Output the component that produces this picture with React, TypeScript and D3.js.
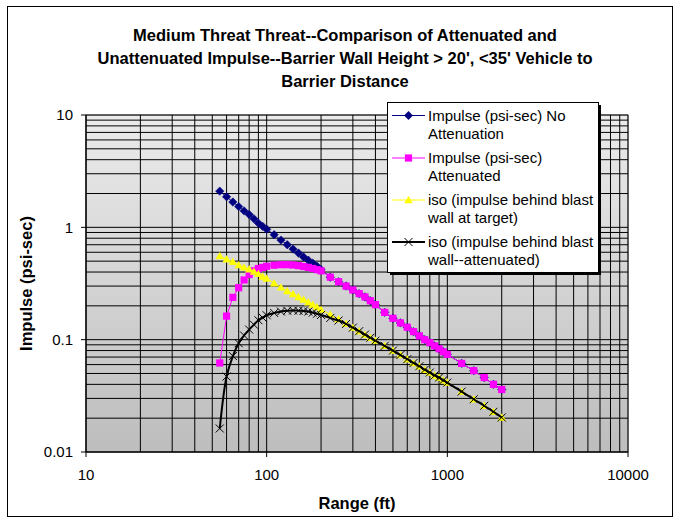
import React from "react";
import * as d3 from "d3";

const ranges = [55, 60, 65, 70, 75, 80, 85, 90, 95, 100, 110, 120, 130, 140, 150, 160, 170, 180, 190, 200, 225, 250, 275, 300, 325, 350, 375, 400, 450, 500, 550, 600, 650, 700, 750, 800, 850, 900, 950, 1000, 1200, 1400, 1600, 1800, 2000];

const impulseNoAtten = [2.10, 1.87, 1.68, 1.53, 1.40, 1.30, 1.19, 1.09, 1.02, 0.96, 0.86, 0.77, 0.70, 0.64, 0.59, 0.545, 0.51, 0.48, 0.45, 0.42, 0.36, 0.328, 0.30, 0.277, 0.257, 0.24, 0.222, 0.205, 0.175, 0.155, 0.141, 0.129, 0.118, 0.108, 0.100, 0.094, 0.088, 0.083, 0.078, 0.074, 0.0615, 0.053, 0.046, 0.040, 0.036];

const impulseAtten = [0.062, 0.162, 0.238, 0.29, 0.34, 0.38, 0.41, 0.43, 0.44, 0.45, 0.46, 0.465, 0.465, 0.462, 0.456, 0.448, 0.44, 0.43, 0.42, 0.41, 0.36, 0.328, 0.30, 0.277, 0.257, 0.24, 0.222, 0.205, 0.175, 0.155, 0.141, 0.129, 0.118, 0.108, 0.100, 0.094, 0.088, 0.083, 0.078, 0.074, 0.0615, 0.053, 0.046, 0.040, 0.036];

const isoTarget = [0.555, 0.52, 0.494, 0.462, 0.44, 0.423, 0.403, 0.385, 0.365, 0.35, 0.318, 0.292, 0.271, 0.255, 0.24, 0.227, 0.215, 0.205, 0.195, 0.185, 0.167, 0.152, 0.139, 0.128, 0.119, 0.111, 0.104, 0.098, 0.088, 0.080, 0.073, 0.067, 0.062, 0.058, 0.054, 0.051, 0.048, 0.046, 0.0435, 0.0415, 0.0345, 0.0295, 0.0258, 0.0228, 0.0203];

const isoAtten = [0.0162, 0.047, 0.0715, 0.093, 0.109, 0.123, 0.136, 0.149, 0.157, 0.165, 0.173, 0.178, 0.181, 0.182, 0.181, 0.18, 0.178, 0.174, 0.17, 0.166, 0.156, 0.148, 0.138, 0.128, 0.119, 0.111, 0.104, 0.098, 0.088, 0.080, 0.073, 0.067, 0.062, 0.058, 0.054, 0.051, 0.048, 0.046, 0.0435, 0.0415, 0.0345, 0.0295, 0.0258, 0.0228, 0.0203];

const titleLines = [
  "Medium Threat Threat--Comparison of Attenuated and",
  "Unattenuated Impulse--Barrier Wall Height > 20', <35' Vehicle to",
  "Barrier Distance",
];
const xTicks = [10, 100, 1000, 10000];
const xTickLabels = ["10", "100", "1000", "10000"];
const yTicks = [0.01, 0.1, 1, 10];
const yTickLabels = ["0.01", "0.1", "1", "10"];
const xAxisTitle = "Range (ft)";
const yAxisTitle = "Impulse (psi-sec)";

const seriesNames = [
  ["Impulse (psi-sec) No", "Attenuation"],
  ["Impulse (psi-sec)", "Attenuated"],
  ["iso (impulse behind blast", "wall at target)"],
  ["iso (impulse behind blast", "wall--attenuated)"],
];

const FONT = "'Liberation Sans', Arial, Helvetica, sans-serif";

function Marker({ kind, x, y }: { kind: string; x: number; y: number }) {
  if (kind === "diamond") {
    return <path d={`M${x},${y - 4.2}L${x + 4.2},${y}L${x},${y + 4.2}L${x - 4.2},${y}Z`} fill="#000080" stroke="#000080" strokeWidth={0.5} />;
  }
  if (kind === "square") {
    return <rect x={x - 3.6} y={y - 3.6} width={7.2} height={7.2} fill="#FF00FF" />;
  }
  if (kind === "triangle") {
    return <path d={`M${x},${y - 4.2}L${x + 4.2},${y + 3.2}L${x - 4.2},${y + 3.2}Z`} fill="#FFFF00" />;
  }
  return (
    <path d={`M${x - 4},${y - 4}L${x + 4},${y + 4}M${x - 4},${y + 4}L${x + 4},${y - 4}`} stroke="#000000" strokeWidth={1} fill="none" />
  );
}

export default function App() {
  const W = 680;
  const H = 521;
  const x = d3.scaleLog().domain([10, 10000]).range([86, 628]);
  const y = d3.scaleLog().domain([0.01, 10]).range([452, 115]);

  const xGrid: number[] = [];
  [10, 100, 1000].forEach((d) => {
    for (let m = 1; m <= 9; m++) xGrid.push(d * m);
  });
  xGrid.push(10000);
  const yGrid: number[] = [];
  [0.01, 0.1, 1].forEach((d) => {
    for (let m = 1; m <= 9; m++) yGrid.push(d * m);
  });
  yGrid.push(10);

  const series = [
    { values: impulseNoAtten, color: "#000080", width: 1, marker: "diamond", smooth: false },
    { values: impulseAtten, color: "#FF00FF", width: 1, marker: "square", smooth: false },
    { values: isoTarget, color: "#FFFF00", width: 1, marker: "triangle", smooth: false },
    { values: isoAtten, color: "#000000", width: 2, marker: "x", smooth: true },
  ];

  const makeLine = (smooth: boolean) => {
    const l = d3
      .line<[number, number]>()
      .x((d) => x(d[0]))
      .y((d) => y(d[1]));
    if (smooth) l.curve(d3.curveCatmullRom.alpha(0.5));
    return l;
  };

  const [px0, px1] = x.range();
  const [py1, py0] = y.range();

  const legend = { x: 387, y: 102, w: 211, h: 170 };
  const rowY = [115.5, 158, 200, 242];

  return (
    <svg width={W} height={H} style={{ position: "absolute", left: 0, top: 0, background: "#fff" }} fontFamily={FONT}>
      <defs>
        <linearGradient id="plotbg" x1="0" y1="0" x2="0" y2="1">
          <stop offset="0" stopColor="#ebebeb" />
          <stop offset="1" stopColor="#bdbdbd" />
        </linearGradient>
      </defs>
      <rect x={0} y={0} width={W} height={H} fill="#ffffff" />
      <rect x={7.5} y={6.5} width={665} height={510} fill="#ffffff" stroke="#000" strokeWidth={1} />

      {titleLines.map((t, i) => (
        <text key={i} x={345} y={35 + i * 23} dy="0.35em" textAnchor="middle" fontSize={16.5} fontWeight="bold" fill="#000">
          {t}
        </text>
      ))}

      <rect x={px0} y={py0} width={px1 - px0} height={py1 - py0} fill="url(#plotbg)" stroke="#808080" strokeWidth={1} />

      {xGrid.map((v, i) => (
        <line key={"xg" + i} x1={x(v)} x2={x(v)} y1={py0} y2={py1} stroke="#000" strokeWidth={1} />
      ))}
      {yGrid.map((v, i) => (
        <line key={"yg" + i} x1={px0} x2={px1} y1={y(v)} y2={y(v)} stroke="#000" strokeWidth={1} />
      ))}

      <line x1={px0} x2={px0} y1={py0} y2={py1} stroke="#000" />
      <line x1={px0} x2={px1} y1={py1} y2={py1} stroke="#000" />
      {yTicks.map((v, i) => (
        <g key={"yt" + i}>
          <line x1={px0 - 5} x2={px0} y1={y(v)} y2={y(v)} stroke="#000" />
          <text x={73} y={y(v)} dy="0.35em" textAnchor="end" fontSize={15} fill="#000">
            {yTickLabels[i]}
          </text>
        </g>
      ))}
      {xTicks.map((v, i) => (
        <g key={"xt" + i}>
          <line x1={x(v)} x2={x(v)} y1={py1} y2={py1 + 5} stroke="#000" />
          <text x={x(v)} y={475} dy="0.35em" textAnchor="middle" fontSize={15} fill="#000">
            {xTickLabels[i]}
          </text>
        </g>
      ))}

      <text x={(px0 + px1) / 2} y={503} dy="0.35em" textAnchor="middle" fontSize={16.5} fontWeight="bold" fill="#000">
        {xAxisTitle}
      </text>
      <text transform={`translate(26,${(py0 + py1) / 2}) rotate(-90)`} dy="0.35em" textAnchor="middle" fontSize={16.5} fontWeight="bold" fill="#000">
        {yAxisTitle}
      </text>

      {series.map((s, si) => {
        const pts: [number, number][] = ranges.map((r, i) => [r, s.values[i]]);
        return (
          <g key={"s" + si}>
            <path d={makeLine(s.smooth)(pts) || ""} fill="none" stroke={s.color} strokeWidth={s.width} />
            {pts.map((p, i) => (
              <Marker key={i} kind={s.marker} x={x(p[0])} y={y(p[1])} />
            ))}
          </g>
        );
      })}

      <rect x={legend.x + 3} y={legend.y + 3} width={legend.w} height={legend.h} fill="#000" />
      <rect x={legend.x + 0.5} y={legend.y + 0.5} width={legend.w} height={legend.h} fill="#fff" stroke="#000" strokeWidth={1} />
      {series.map((s, si) => (
        <g key={"lg" + si}>
          <line x1={392} x2={425} y1={rowY[si]} y2={rowY[si]} stroke={s.color} strokeWidth={s.width} />
          <Marker kind={s.marker} x={408.5} y={rowY[si]} />
          {seriesNames[si].map((t, li) => (
            <text key={li} x={428} y={rowY[si] + li * 18} dy="0.35em" fontSize={15} fill="#000">
              {t}
            </text>
          ))}
        </g>
      ))}
    </svg>
  );
}
